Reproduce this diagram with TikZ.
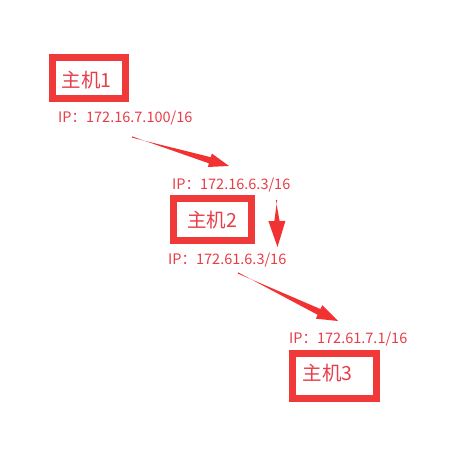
\documentclass[tikz,border=0pt]{standalone}
\usepackage{fontspec}
\setmainfont{Noto Sans CJK SC}
\usetikzlibrary{calc}
\definecolor{boxred}{RGB}{240,58,58}
\definecolor{txtred}{RGB}{232,62,74}
\definecolor{arrred}{RGB}{242,50,50}
\tikzset{
  hostbox/.style={draw=boxred, line width=7pt, rectangle, inner sep=0pt},
  hostlabel/.style={text=txtred, font=\fontsize{19.5}{22}\selectfont, inner sep=0pt},
  iplabel/.style={text=txtred, font=\fontsize{14.5}{16}\selectfont, inner sep=0pt, anchor=west},
}
% tapered arrow from #1 to #2; #3 head length, #4 head half width, #5 shaft half width
\newcommand{\taperarrow}[5]{%
  \coordinate (hb) at ($(#2)!#3!(#1)$);
  \fill[arrred] ($(#1)!0.6pt!90:(#2)$) -- ($(hb)!#5!-90:(#2)$) -- ($(hb)!#4!-90:(#2)$)
    -- (#2) -- ($(hb)!#4!90:(#2)$) -- ($(hb)!#5!90:(#2)$) -- ($(#1)!0.6pt!-90:(#2)$) -- cycle;
}
\begin{document}
\begin{tikzpicture}[x=1pt,y=-1pt]
\useasboundingbox[fill=white] (0,0) rectangle (455,454);
% boxes
\node[hostbox, minimum width=73pt, minimum height=41.5pt] (b1) at (89,78.2) {};
\node[hostbox, minimum width=78pt, minimum height=42pt] (b2) at (212.5,219.5) {};
\node[hostbox, minimum width=84pt, minimum height=44.5pt] (b3) at (334,376) {};
\node[hostlabel] (h1) at (86.5,80) {主机1};
\node[hostlabel] (h2) at (212,220) {主机2};
\node[hostlabel] (h3) at (327.5,373) {主机3};
% ip labels
\node[iplabel] (ip1) at (58,118) {IP：172.16.7.100/16};
\node[iplabel] (ip2) at (172,185) {IP：172.16.6.3/16};
\node[iplabel] (ip3) at (168,260) {IP：172.61.6.3/16};
\node[iplabel] (ip4) at (289,339) {IP：172.61.7.1/16};
% arrows
\coordinate (a1s) at (132,137);
\coordinate (a1e) at (229,166);
\coordinate (a2s) at (276.5,200);
\coordinate (a2e) at (277.5,247);
\coordinate (a3s) at (238,273);
\coordinate (a3e) at (338,321);
\taperarrow{a1s}{a1e}{20pt}{7pt}{3.2pt}
\taperarrow{a2s}{a2e}{26pt}{8.5pt}{2.6pt}
\taperarrow{a3s}{a3e}{21pt}{7.5pt}{3.2pt}
\end{tikzpicture}
\end{document}
